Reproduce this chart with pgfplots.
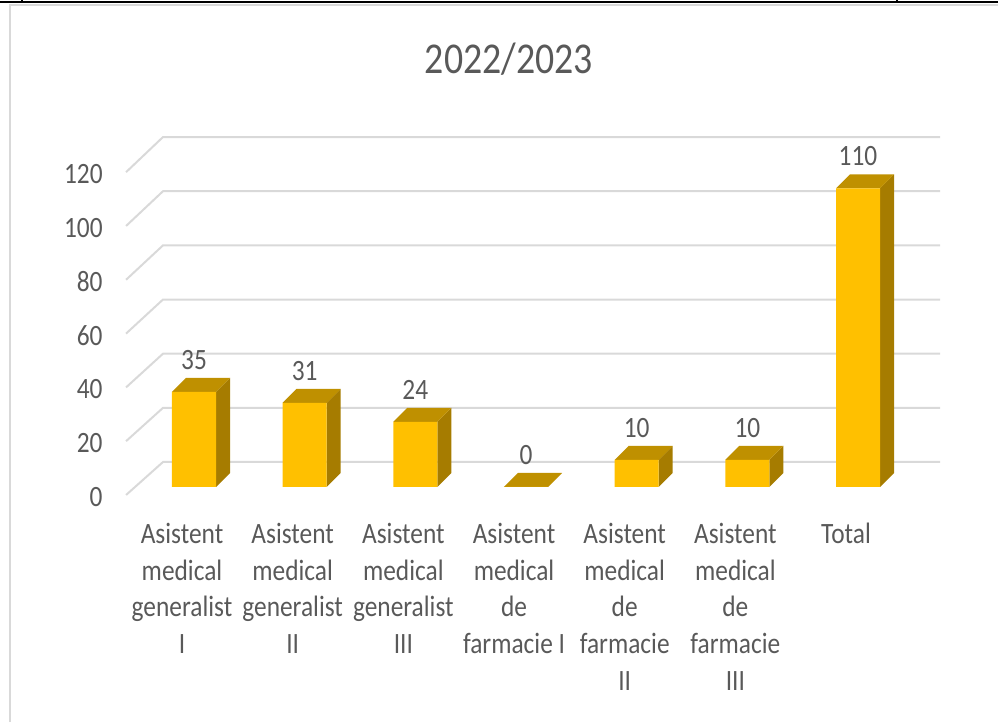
\documentclass[border=0pt]{standalone}
\usepackage{fontspec}
\setmainfont{Carlito}[FakeStretch=0.86]
\usepackage{pgfplots}
\pgfplotsset{compat=1.18}
\definecolor{frontc}{HTML}{FFC000}
\definecolor{sidec}{HTML}{A67C00}
\definecolor{topc}{HTML}{BF9000}
\definecolor{txt}{HTML}{595959}
\definecolor{gridc}{HTML}{D9D9D9}
\newcommand{\smallfont}{\fontsize{14.75}{18.3}\selectfont}
\begin{document}
\begin{tikzpicture}
\begin{axis}[
  scale only axis, width=499pt, height=361pt,
  xmin=-1.7530, xmax=7.2648, ymin=-86.56, ymax=179.37,
  axis line style={draw=none},
  major tick length=0pt,
  clip=false,
  /pgf/number format/assume math mode=true,
  ytick={-2.95,16.87,36.68,56.50,76.32,96.13,115.95},
  yticklabels={0,20,40,60,80,100,120},
  yticklabel style={anchor=east, inner sep=0pt, xshift=51.5pt, yshift=-0.8pt, font=\smallfont, text=txt},
  xtick={0,1,2,3,4,5,6},
  xticklabels={{Asistent\\medical\\generalist\\I},{Asistent\\medical\\generalist\\II},{Asistent\\medical\\generalist\\III},{Asistent\\medical\\de\\farmacie I},{Asistent\\medical\\de\\farmacie\\II},{Asistent\\medical\\de\\farmacie\\III},{Total}},
  xticklabel style={anchor=north, inner sep=0pt, align=center, xshift=-6pt, yshift=99.5pt, font=\smallfont, text=txt},
  title={2022/2023},
  title style={at={(0.51,0.918)}, anchor=center, yshift=-6pt, font=\fontsize{22}{26}\selectfont, text=txt},
]
% back-wall gridlines with left diagonal
\addplot[gridc, line width=1pt] coordinates {(-0.614,-2.95) (-0.280,9.21) (6.741,9.21)};
\addplot[gridc, line width=1pt] coordinates {(-0.614,16.87) (-0.280,29.15) (6.741,29.15)};
\addplot[gridc, line width=1pt] coordinates {(-0.614,36.68) (-0.280,49.10) (6.741,49.10)};
\addplot[gridc, line width=1pt] coordinates {(-0.614,56.50) (-0.280,69.05) (6.741,69.05)};
\addplot[gridc, line width=1pt] coordinates {(-0.614,76.32) (-0.280,89.00) (6.741,89.00)};
\addplot[gridc, line width=1pt] coordinates {(-0.614,96.13) (-0.280,108.95) (6.741,108.95)};
\addplot[gridc, line width=1pt] coordinates {(-0.614,115.95) (-0.280,128.90) (6.741,128.90)};
% side faces
\addplot[fill=sidec, draw=none] coordinates {(0.199,0) (0.3255,5.16) (0.3255,40.16) (0.199,35)} -- cycle;
\addplot[fill=sidec, draw=none] coordinates {(1.199,0) (1.3255,5.16) (1.3255,36.16) (1.199,31)} -- cycle;
\addplot[fill=sidec, draw=none] coordinates {(2.199,0) (2.3255,5.16) (2.3255,29.16) (2.199,24)} -- cycle;
\addplot[fill=sidec, draw=none] coordinates {(4.199,0) (4.3255,5.16) (4.3255,15.16) (4.199,10)} -- cycle;
\addplot[fill=sidec, draw=none] coordinates {(5.199,0) (5.3255,5.16) (5.3255,15.16) (5.199,10)} -- cycle;
\addplot[fill=sidec, draw=none] coordinates {(6.199,0) (6.3255,5.16) (6.3255,115.16) (6.199,110)} -- cycle;
% top faces
\addplot[fill=topc, draw=none] coordinates {(-0.199,35) (-0.0725,40.16) (0.3255,40.16) (0.199,35)} -- cycle;
\addplot[fill=topc, draw=none] coordinates {(0.801,31) (0.9275,36.16) (1.3255,36.16) (1.199,31)} -- cycle;
\addplot[fill=topc, draw=none] coordinates {(1.801,24) (1.9275,29.16) (2.3255,29.16) (2.199,24)} -- cycle;
\addplot[fill=topc, draw=none] coordinates {(2.801,0) (2.9275,5.16) (3.3255,5.16) (3.199,0)} -- cycle;
\addplot[fill=topc, draw=none] coordinates {(3.801,10) (3.9275,15.16) (4.3255,15.16) (4.199,10)} -- cycle;
\addplot[fill=topc, draw=none] coordinates {(4.801,10) (4.9275,15.16) (5.3255,15.16) (5.199,10)} -- cycle;
\addplot[fill=topc, draw=none] coordinates {(5.801,110) (5.9275,115.16) (6.3255,115.16) (6.199,110)} -- cycle;
% front faces (data)
\addplot[ybar, bar width=0.398, fill=frontc, draw=none,
  nodes near coords,
  nodes near coords style={anchor=center, yshift=16pt, font=\smallfont, text=txt}]
  coordinates {(0,35) (1,31) (2,24) (3,0) (4,10) (5,10) (6,110)};
% frame
\draw[black, line width=0.75pt] (rel axis cs:0,0.9972) -- (rel axis cs:1,0.9972);
\draw[black, line width=0.75pt] (rel axis cs:0.02204,1) -- (rel axis cs:0.02204,0.9972);
\draw[black, line width=0.75pt] (rel axis cs:0.8988,1) -- (rel axis cs:0.8988,0.9972);
\draw[gridc, line width=1pt] (rel axis cs:0.01002,0) -- (rel axis cs:0.01002,0.99307) -- (rel axis cs:1,0.99307);
\end{axis}
\pgfresetboundingbox
\path[use as bounding box] (current axis.south west) rectangle (current axis.north east);
\end{tikzpicture}
\end{document}
